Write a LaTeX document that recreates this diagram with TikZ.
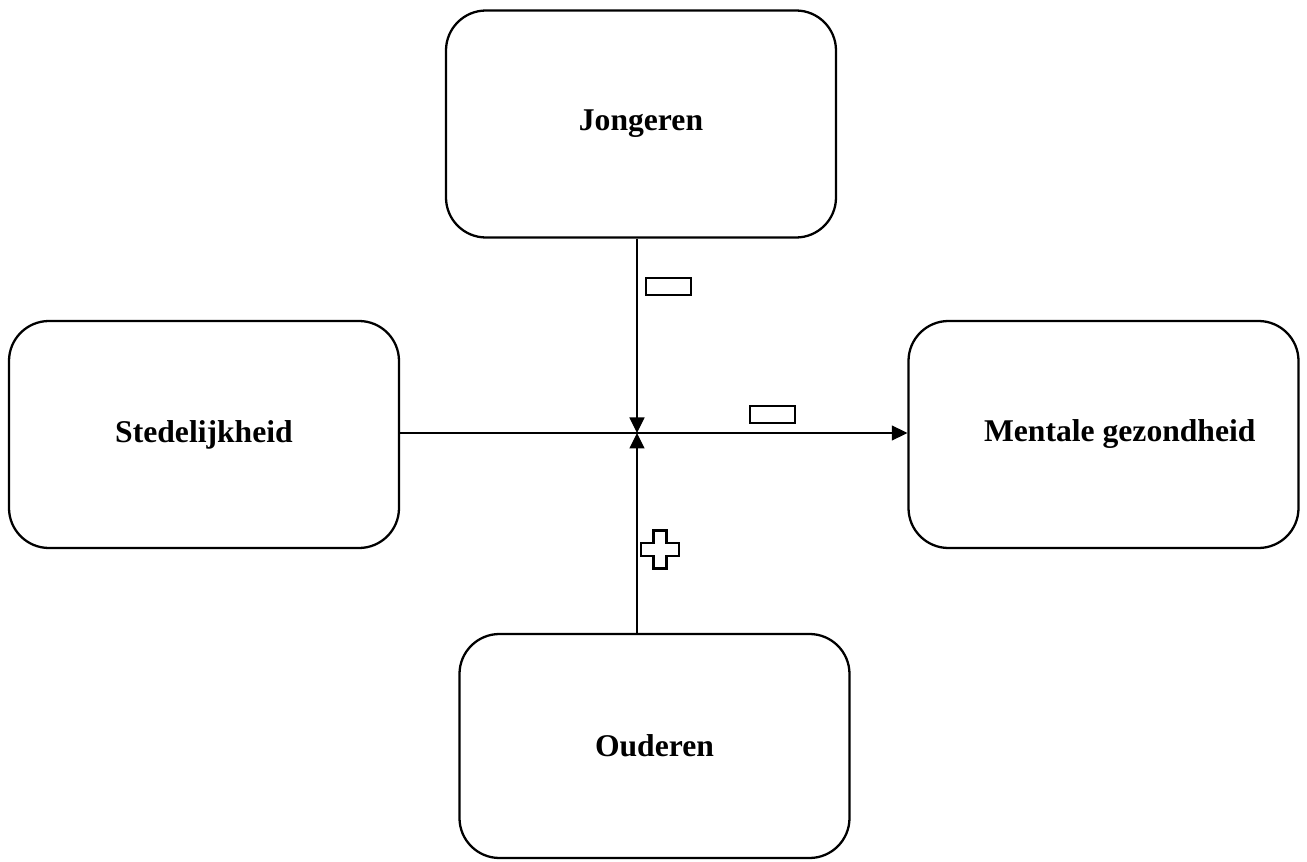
\documentclass[tikz,border=0pt]{standalone}
\usepackage{fontspec}
\setmainfont{Liberation Serif}
\usetikzlibrary{arrows.meta}

\begin{document}
\begin{tikzpicture}[
  box/.style={draw, line width=1.3pt, rounded corners=0.8cm, minimum width=7.8cm,
    minimum height=4.54cm, font=\fontsize{18}{22}\selectfont\bfseries},
  link/.style={line width=0.7pt, -{Triangle[length=0.31cm,width=0.3cm]}},
  sign/.style={draw, line width=1.4pt, minimum width=0.9cm, minimum height=0.34cm, inner sep=0pt}]
\useasboundingbox (0,0) rectangle (26.14,17.22);
%% nodes
\node[box] (Jong) at (12.82,14.74) {Jongeren};
\node[box] (Sted) at (4.08,8.53) {\raisebox{-0.06cm}{Stedelijkheid}};
\node[box] (Ment) at (22.07,8.53) {\hspace*{0.65cm}\raisebox{0.15cm}{Mentale gezondheid}};
\node[box, minimum height=4.48cm] (Oud) at (13.09,2.30) {\raisebox{-0.1cm}{Ouderen}};
\coordinate (mid) at (12.74,8.56);
%% signs
\node[sign] (min1) at (13.37,11.49) {};
\node[sign] (min2) at (15.45,8.93) {};
\coordinate (plus) at (13.2,6.23);
\draw[line width=1.4pt, shift={(plus)}] (-0.13,0.38) -- (0.13,0.38) -- (0.13,0.13) -- (0.38,0.13)
  -- (0.38,-0.13) -- (0.13,-0.13) -- (0.13,-0.38) -- (-0.13,-0.38) -- (-0.13,-0.13)
  -- (-0.38,-0.13) -- (-0.38,0.13) -- (-0.13,0.13) -- cycle;
%%% edges
\draw[link] (Sted.east |- mid) -- (Ment.west |- mid);
\draw[link] (Jong.south -| mid) -- (mid);
\draw[link] (Oud.north -| mid) -- (mid);
\end{tikzpicture}
\end{document}
